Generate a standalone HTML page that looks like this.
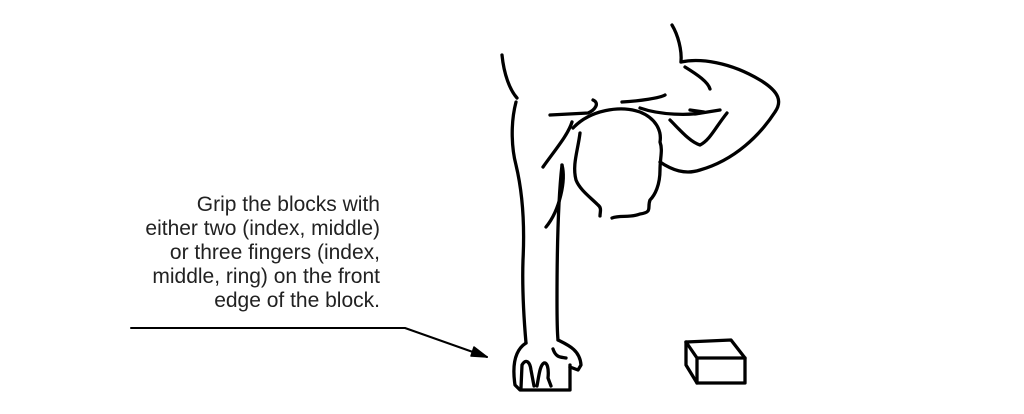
<!DOCTYPE html>
<html><head><meta charset="utf-8"><style>
html,body{margin:0;padding:0;background:#fff;width:1024px;height:414px;overflow:hidden}
.t{position:absolute;right:644px;top:193px;width:380px;text-align:right;font-family:"Liberation Sans",sans-serif;font-size:21px;line-height:24px;color:#222}
svg{position:absolute;left:0;top:0}
</style></head><body>
<svg width="1024" height="414" viewBox="0 0 1024 414" fill="none" stroke="#000" stroke-width="3.3" stroke-linecap="round" stroke-linejoin="round">
<path d="M131 328 L405 328 L487 357" stroke-width="2"/>
<path d="M487 357 L474 347 L471 356 Z" fill="#000" stroke-width="1.5"/>
<path d="M502 55 C504 75 510 90 517 98"/>
<path d="M516 102 C510 125 512 150 516 165 C522 190 525 220 523 260 C522 290 524 320 526 343"/>
<path d="M546 227 C560 210 566 180 562 165"/>
<path d="M562 165 C558 200 557 260 557 300 C557 320 557 330 558 340"/>
<path d="M543 167 C555 150 568 135 572 122"/>
<path d="M526 343 C515 350 512 365 515 385 L520 390 L570 390 L570 365"/>
<path d="M558 340 C568 345 580 350 581 365 L578 370 L570 367"/>
<path d="M521 388 L522 365 C526 358 530 362 531 370 L534 386"/>
<path d="M537 386 C539 375 540 365 544 363 C547 362 549 368 548 378 L551 386"/>
<path d="M553 349 C556 358 561 357 566 358"/>
<path d="M550 115 L588 113 C595 110 600 103 593 100"/>
<path d="M622 102 C640 101 660 98 665 95"/>
<path d="M640 108 C660 115 690 116 704 112 L690 110"/>
<path d="M573 128 C590 110 620 105 640 112 C655 118 662 130 660 142 C663 150 660 158 660 170 C660 185 655 195 650 200 C647 208 653 212 640 214 C630 218 620 215 612 218"/>
<path d="M580 133 C578 150 572 165 576 180 C580 190 590 197 598 205 C602 208 600 212 600 216"/>
<path d="M672 25 C678 35 682 50 681 62"/>
<path d="M681 62 C700 58 730 62 760 80 C780 92 782 102 775 112 C760 135 735 160 700 170 C685 175 672 170 660 162"/>
<path d="M685 67 C698 75 708 82 710 89"/>
<path d="M670 120 C680 130 690 142 700 145 C710 140 715 128 727 113"/>
<path d="M695 114 L720 110"/>
<path d="M686 342 L697 358 L745 358 L745 383 L697 383 L697 358"/>
<path d="M686 342 L686 365 L697 383"/>
<path d="M686 342 L731 340 L745 358"/>
</svg>
<div class="t">Grip the blocks with<br>either two (index, middle)<br>or three fingers (index,<br>middle, ring) on the front<br>edge of the block.</div>
</body></html>
